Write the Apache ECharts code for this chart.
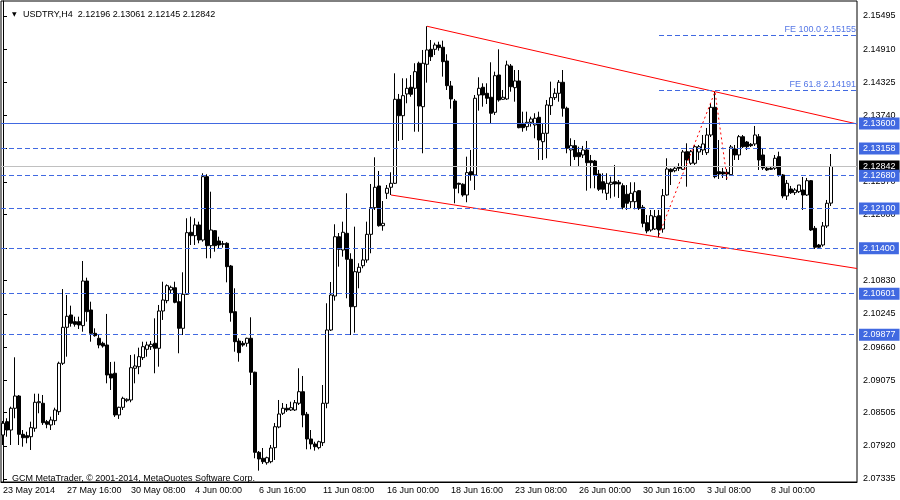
<!DOCTYPE html>
<html><head><meta charset="utf-8">
<script src="https://cdn.jsdelivr.net/npm/echarts@6/dist/echarts.min.js"></script>
<style>html,body{margin:0;padding:0;background:#fff}#c{width:900px;height:500px}</style>
</head><body><div id="c"></div>
<script>
const symbolName = 'USDTRY,H4';
const days = ['23 May','26 May','27 May','28 May','29 May','30 May','2 Jun','3 Jun','4 Jun','5 Jun','6 Jun','9 Jun','10 Jun','11 Jun','12 Jun','13 Jun','16 Jun','17 Jun','18 Jun','19 Jun','20 Jun','23 Jun','24 Jun','25 Jun','26 Jun','27 Jun','30 Jun','1 Jul','2 Jul','3 Jul','4 Jul','7 Jul','8 Jul','9 Jul','10 Jul'];
const hours = ['00:00','04:00','08:00','12:00','16:00','20:00'];

const openP = [
2.08110,2.08345,2.08198,2.08581,2.08797,2.08122,2.08098,2.08080,2.08229,2.08679,
2.08669,2.08345,2.08287,2.08363,2.08521,2.09374,2.10008,2.10225,2.10107,2.10107,
2.10037,2.10823,2.10313,2.09902,2.09814,2.09726,2.09696,2.09186,2.09198,2.08463,
2.08598,2.08715,2.08727,2.09286,2.09314,2.09473,2.09620,2.09666,2.09726,2.09638,
2.10295,2.10477,2.10665,2.10705,2.10459,2.09990,2.10589,2.11682,2.11622,2.11811,
2.11546,2.12662,2.11446,2.11710,2.11529,2.11481,2.11488,2.11088,2.10283,2.09766,
2.09726,2.09726,2.09814,2.09216,2.07805,2.07700,2.07622,2.07640,2.07887,2.08251,
2.08493,2.08581,2.08551,2.08551,2.08669,2.08873,2.08475,2.08040,2.07952,2.07887,
2.07975,2.08669,2.09960,2.10559,2.11604,2.11370,2.11664,2.11206,2.10371,2.10977,
2.11093,2.11194,2.11646,2.12115,2.12498,2.11798,2.12369,2.12475,2.12545,2.14025,
2.13736,2.14119,2.14237,2.14219,2.14660,2.13895,2.14642,2.14906,2.14906,2.14982,
2.14942,2.14700,2.14260,2.13995,2.12545,2.12528,2.12339,2.12750,2.12692,2.14101,
2.14237,2.14131,2.14061,2.13796,2.14453,2.14025,2.14031,2.14612,2.14230,2.14348,
2.13602,2.13543,2.13620,2.13573,2.13708,2.13278,2.13426,2.13913,2.14054,2.14131,
2.14325,2.13867,2.13132,2.13208,2.13085,2.13044,2.13132,2.12943,2.12938,2.12709,
2.12573,2.12369,2.12528,2.12573,2.12563,2.12503,2.12351,2.12221,2.12221,2.12415,
2.12122,2.11851,2.11722,2.11740,2.11974,2.11740,2.12339,2.12792,2.12767,2.12838,
2.12792,2.13102,2.12898,2.12898,2.13097,2.13132,2.13085,2.13396,2.13884,2.12750,
2.12744,2.12739,2.12697,2.13150,2.13044,2.13366,2.13273,2.13232,2.13238,2.13366,
2.13044,2.12810,2.12810,2.12810,2.13014,2.12692,2.12322,2.12445,2.12380,2.12397,
2.12427,2.12339,2.12591,2.11752,2.11458,2.11458,2.11793,2.12196];

const highP = [
2.08357,2.08405,2.08609,2.09479,2.08815,2.08198,2.08168,2.08345,2.08838,2.08838,
2.08815,2.08375,2.08433,2.08591,2.09402,2.10682,2.10577,2.10389,2.10195,2.10195,
2.11176,2.10882,2.10459,2.09990,2.09872,2.09754,2.10243,2.09397,2.09402,2.08609,
2.08785,2.08756,2.09520,2.09532,2.09649,2.09754,2.09754,2.09766,2.10166,2.10401,
2.10811,2.10765,2.10741,2.10811,2.10607,2.10977,2.11929,2.11957,2.11929,2.11869,
2.12722,2.12704,2.12397,2.11722,2.11604,2.11529,2.11506,2.11106,2.10695,2.09814,
2.09766,2.09825,2.10184,2.09226,2.07828,2.07881,2.07728,2.07934,2.08322,2.08727,
2.08674,2.08657,2.08697,2.08727,2.09286,2.09150,2.08516,2.08198,2.07992,2.08010,
2.08991,2.10431,2.10806,2.11823,2.11669,2.11869,2.12369,2.11312,2.11781,2.11136,
2.11400,2.11869,2.12533,2.13003,2.12762,2.12233,2.12515,2.12739,2.14483,2.14119,
2.14395,2.14395,2.14453,2.14660,2.14688,2.14894,2.15312,2.15070,2.15023,2.15040,
2.15058,2.14818,2.14348,2.14031,2.12556,2.12545,2.13014,2.13132,2.14101,2.14413,
2.14307,2.14307,2.14677,2.14512,2.14906,2.14189,2.14705,2.14647,2.14541,2.14541,
2.13807,2.13807,2.13719,2.13779,2.13807,2.13602,2.14013,2.14336,2.14219,2.14365,
2.14541,2.13895,2.13338,2.13308,2.13190,2.13203,2.13291,2.13044,2.12956,2.12780,
2.12722,2.12722,2.12662,2.12868,2.12603,2.12545,2.12515,2.12563,2.12563,2.12427,
2.12163,2.11987,2.12075,2.12075,2.12075,2.12445,2.12986,2.12810,2.12838,2.12898,
2.13132,2.13250,2.13132,2.13220,2.13220,2.13396,2.13520,2.13955,2.14159,2.13308,
2.12815,2.12797,2.13220,2.13220,2.13396,2.13396,2.13291,2.13255,2.13555,2.13414,
2.13167,2.12850,2.12832,2.13044,2.13102,2.12709,2.12603,2.12498,2.12462,2.12515,
2.12656,2.12639,2.12603,2.11793,2.11476,2.11863,2.12251,2.13061];

const lowP = [
2.07934,2.08080,2.07934,2.08405,2.07934,2.07904,2.07964,2.07846,2.08168,2.08493,
2.08287,2.08229,2.08198,2.08287,2.08463,2.09344,2.09490,2.10019,2.10019,2.09978,
2.09930,2.10107,2.09754,2.09842,2.09638,2.09649,2.09021,2.08903,2.08428,2.08393,
2.08551,2.08687,2.08687,2.09021,2.09181,2.09432,2.09490,2.09608,2.09198,2.09314,
2.10137,2.10431,2.10607,2.10431,2.09550,2.09872,2.10577,2.11458,2.11458,2.11488,
2.11516,2.11224,2.11224,2.11340,2.11400,2.11411,2.10800,2.10107,2.09578,2.09402,
2.09666,2.09666,2.08991,2.07700,2.07482,2.07600,2.07587,2.07612,2.07670,2.08229,
2.08463,2.08516,2.08533,2.08533,2.08639,2.08246,2.07858,2.07858,2.07834,2.07858,
2.07916,2.08581,2.09943,2.10477,2.11076,2.11252,2.10519,2.09872,2.09913,2.10695,
2.11048,2.11146,2.11312,2.12075,2.11781,2.11710,2.12269,2.12339,2.12533,2.13291,
2.13308,2.13955,2.14071,2.13454,2.13454,2.13074,2.14318,2.14700,2.14806,2.14882,
2.14424,2.14189,2.13860,2.12193,2.12369,2.12309,2.12211,2.12591,2.12427,2.13825,
2.13895,2.13942,2.13590,2.13749,2.13983,2.14013,2.14013,2.14159,2.13983,2.13514,
2.13454,2.13472,2.13543,2.13338,2.12956,2.12956,2.12986,2.13749,2.14013,2.13983,
2.13719,2.13074,2.12832,2.12956,2.12832,2.12991,2.12415,2.12457,2.12457,2.12410,
2.12369,2.12251,2.12281,2.12309,2.12286,2.12087,2.12075,2.12105,2.12087,2.12075,
2.11770,2.11664,2.11692,2.11722,2.11594,2.11675,2.12327,2.12515,2.12739,2.12762,
2.12780,2.12485,2.12868,2.12868,2.12956,2.13044,2.13044,2.13361,2.12633,2.12621,
2.12639,2.12603,2.12674,2.12956,2.12956,2.13167,2.13132,2.13185,2.13203,2.12780,
2.12780,2.12762,2.12780,2.12780,2.12662,2.12281,2.12251,2.12357,2.12339,2.12374,
2.12075,2.12322,2.11705,2.11388,2.11393,2.11428,2.11758,2.12145];

const closeP = [
2.08317,2.08198,2.08581,2.08797,2.08122,2.08062,2.08062,2.08239,2.08687,2.08697,
2.08327,2.08299,2.08375,2.08551,2.09374,2.10008,2.10202,2.10079,2.10061,2.10049,
2.10823,2.10283,2.09902,2.09860,2.09696,2.09678,2.09168,2.09115,2.08463,2.08598,
2.08756,2.08739,2.09296,2.09326,2.09490,2.09666,2.09696,2.09708,2.09638,2.10295,
2.10489,2.10741,2.10712,2.10448,2.09990,2.10589,2.11675,2.11622,2.11811,2.11546,
2.12662,2.11446,2.11722,2.11446,2.11458,2.11470,2.11076,2.10265,2.09754,2.09561,
2.09696,2.09814,2.09216,2.07805,2.07688,2.07640,2.07710,2.07881,2.08256,2.08480,
2.08581,2.08551,2.08591,2.08679,2.08873,2.08463,2.08040,2.07952,2.07904,2.07992,
2.08669,2.09960,2.10577,2.11604,2.11382,2.11682,2.11206,2.10371,2.10988,2.11065,
2.11194,2.11646,2.12115,2.12475,2.11798,2.11840,2.12457,2.12545,2.14025,2.13736,
2.14089,2.14219,2.14113,2.14512,2.13907,2.14660,2.14894,2.14776,2.14982,2.14935,
2.14688,2.14265,2.14031,2.12457,2.12528,2.12339,2.12733,2.12692,2.14043,2.14219,
2.14101,2.14043,2.13779,2.14441,2.14013,2.14061,2.14630,2.14247,2.14348,2.13525,
2.13525,2.13620,2.13678,2.13691,2.13308,2.13426,2.13925,2.14054,2.14131,2.14325,
2.13867,2.13162,2.13208,2.13014,2.13014,2.13132,2.12908,2.12908,2.12692,2.12440,
2.12440,2.12545,2.12563,2.12533,2.12533,2.12122,2.12193,2.12369,2.12397,2.12105,
2.11840,2.11705,2.11974,2.11957,2.11722,2.12327,2.12797,2.12750,2.12810,2.12810,
2.13097,2.12956,2.13102,2.13190,2.13190,2.13238,2.13396,2.13884,2.12662,2.12709,
2.12709,2.12709,2.13185,2.13044,2.13366,2.13190,2.13190,2.13208,2.13396,2.12956,
2.12815,2.12780,2.12792,2.12986,2.12692,2.12322,2.12545,2.12380,2.12427,2.12515,
2.12339,2.12591,2.11722,2.11418,2.11418,2.11793,2.12193,2.12842];

const xTickBars = [0,16,32,48,64,80,96,112,128,144,160,176,192];
const xTickText = ['23 May 2014','27 May 16:00','30 May 08:00','4 Jun 00:00','6 Jun 16:00','11 Jun 08:00','16 Jun 00:00','18 Jun 16:00','23 Jun 08:00','26 Jun 00:00','30 Jun 16:00','3 Jul 08:00','8 Jul 00:00'];
const yTickValues = [2.15495,2.14910,2.14325,2.13740,2.13155,2.12570,2.12000,2.11400,2.10830,2.10245,2.09660,2.09075,2.08505,2.07920,2.07335];

const levelSolid = [2.13600];
const levelDashed = [2.13158,2.12680,2.12100,2.11400,2.10601,2.09877];
const bidPrice = 2.12842;
const upperChannel = [[106,2.15312],[178,2.14159]];
const lowerChannel = [[97,2.12339],[164,2.11594]];
const fePoints = [[164,2.11635],[178,2.14159],[181,2.12631]];
const feNames = ['FE 100.0','FE 61.8'];
const feValues = [2.15155,2.14191];
const copyright = 'GCM MetaTrader, \u00A9 2001-2014, MetaQuotes Software Corp.';
const yMin = 2.07282, yMax = 2.15757;
const emptyBarsRight = 6;

const FONT = 'Liberation Sans, Arial, sans-serif';
const BLUE = '#4169E1';

const n = openP.length;
const categories = [];
for (const d of days) for (const h of hours) if (categories.length < n) categories.push(d + ' ' + h);
for (let i = 0; i < emptyBarsRight; i++) categories.push('');
const xMaxV = categories.length - 0.5;

const candles = openP.map((o, i) => [o, closeP[i], lowP[i], highP[i]]);
const tickMap = new Map(xTickBars.map((b, i) => [b, xTickText[i]]));
const showTick = (idx) => tickMap.has(idx);

function ray(p1, p2, xEnd) {
  const slope = (p2[1] - p1[1]) / (p2[0] - p1[0]);
  return [p1, [xEnd, p1[1] + slope * (xEnd - p1[0])]];
}

const hLabel = (bg) => ({
  show: true, position: 'end', distance: 2,
  formatter: p => Number(p.value).toFixed(5),
  color: '#fff', backgroundColor: bg, padding: [2, 4, 1, 4],
  fontSize: 9, fontFamily: FONT
});
const hLine = (v, color, type, bg) => ({
  yAxis: v,
  lineStyle: { color: color, type: type, width: 1, opacity: 1 },
  emphasis: { disabled: true },
  label: hLabel(bg)
});

const last = n - 1;
const header = symbolName + '  ' + [openP[last], highP[last], lowP[last], closeP[last]].map(v => v.toFixed(5)).join(' ');

const chart = echarts.init(document.getElementById('c'));
chart.setOption({
  animation: false,
  backgroundColor: '#fff',
  title: [
    { text: '\u25BC', left: 7, top: 6, textStyle: { fontSize: 6, color: '#000', fontWeight: 'normal', fontFamily: 'DejaVu Sans' } },
    { text: header, left: 18, top: 5, textStyle: { fontSize: 9, color: '#000', fontWeight: 'normal', fontFamily: FONT } },
    { text: copyright, left: 7, top: 469, textStyle: { fontSize: 9, color: '#000', fontWeight: 'normal', fontFamily: FONT } }
  ],
  grid: { left: 1, right: 43, top: 1, bottom: 18, show: true, borderColor: '#000', borderWidth: 1, backgroundColor: '#fff' },
  xAxis: [
    {
      type: 'category', data: categories, boundaryGap: true,
      axisLine: { lineStyle: { color: '#000', width: 1 } },
      axisTick: { alignWithLabel: true, interval: showTick, length: 4, lineStyle: { color: '#000' } },
      axisLabel: { interval: showTick, formatter: (v, i) => tickMap.get(i) || '', align: 'left', margin: 4, color: '#000', fontSize: 9, fontFamily: FONT },
      splitLine: { show: false }
    },
    { type: 'value', min: -0.5, max: xMaxV, show: false, splitLine: { show: false } }
  ],
  yAxis: {
    type: 'value', position: 'right', min: yMin, max: yMax, scale: true,
    axisLine: { show: true, lineStyle: { color: '#000', width: 1 } },
    axisTick: { show: true, length: 4, customValues: yTickValues, lineStyle: { color: '#000' } },
    axisLabel: { customValues: yTickValues, formatter: v => v.toFixed(5), margin: 6, color: '#000', fontSize: 9, fontFamily: FONT },
    splitLine: { show: false }
  },
  series: [
    {
      type: 'line', xAxisIndex: 1, data: [], z: 1, silent: true, showSymbol: false,
      color: BLUE,
      markLine: {
        silent: true, symbol: ['none', 'none'], animation: false, precision: 5,
        data: [
          hLine(bidPrice, '#c0c0c0', 'solid', '#000'),
          ...levelSolid.map(v => hLine(v, BLUE, 'solid', BLUE)),
          ...levelDashed.map(v => hLine(v, BLUE, [5, 3], BLUE))
        ]
      }
    },
    {
      type: 'candlestick', data: candles, barWidth: 3, z: 3,
      itemStyle: { color: '#fff', color0: '#000', borderColor: '#000', borderColor0: '#000', borderWidth: 1 }
    },
    {
      type: 'line', xAxisIndex: 1, data: ray(upperChannel[0], upperChannel[1], xMaxV),
      showSymbol: false, lineStyle: { color: '#ff0000', width: 1 }, z: 4, silent: true
    },
    {
      type: 'line', xAxisIndex: 1, data: ray(lowerChannel[0], lowerChannel[1], xMaxV),
      showSymbol: false, lineStyle: { color: '#ff0000', width: 1 }, z: 4, silent: true
    },
    {
      type: 'line', xAxisIndex: 1, data: fePoints,
      showSymbol: false, lineStyle: { color: '#ff0000', width: 1, type: [2, 3] }, z: 4, silent: true,
      markLine: {
        silent: true, symbol: ['none', 'none'], animation: false, precision: 5,
        lineStyle: { color: BLUE, type: [5, 3], width: 1 },
        label: { show: true, position: 'insideEndTop', distance: 1, color: '#5577e6', fontSize: 9, fontFamily: FONT },
        data: feValues.map((v, i) => [
          { coord: [fePoints[0][0], v], label: { formatter: feNames[i] + ' ' + v.toFixed(5) } },
          { coord: [xMaxV, v] }
        ])
      }
    }
  ]
});
</script>
</body></html>
